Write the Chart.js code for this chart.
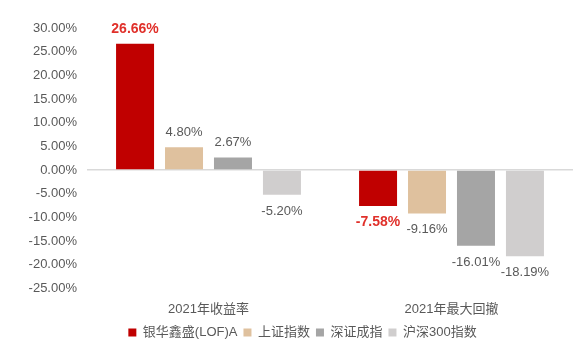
<!DOCTYPE html>
<html><head><meta charset="utf-8">
<script src="https://cdn.jsdelivr.net/npm/chart.js@4/dist/chart.umd.min.js"></script>
<style>html,body{margin:0;padding:0;background:#fff}#wrap{width:585px;height:356px;position:relative}</style>
</head><body><div id="wrap"><canvas id="c" width="585" height="356"></canvas></div>
<script>
const categories = ['2021年收益率', '2021年最大回撤'];
const seriesNames = ['银华鑫盛(LOF)A', '上证指数', '深证成指', '沪深300指数'];
const fundValues = [26.66, -7.58];
const shIndexValues = [4.80, -9.16];
const szIndexValues = [2.67, -16.01];
const hs300Values = [-5.20, -18.19];
const yTickMin = -25, yTickMax = 30, yTickStep = 5;

const colors = ['#C00000', '#DFC19E', '#A5A5A5', '#D0CECE'];
const FONT = "'Liberation Sans', Arial, 'Noto Sans CJK SC', sans-serif";
const TXT = '#595959';

const labelPlugin = {
  id: 'valLabels',
  afterLayout(chart) {
    if (chart.legend) { chart.legend.left += 16; chart.legend.right += 16; }
  },
  afterDatasetsDraw(chart) {
    const ctx = chart.ctx;
    chart.data.datasets.forEach((ds, di) => {
      const meta = chart.getDatasetMeta(di);
      meta.data.forEach((bar, i) => {
        const v = ds.data[i];
        const isFund = di === 0;
        ctx.save();
        ctx.font = (isFund ? 'bold 14px ' : '13px ') + FONT;
        ctx.fillStyle = isFund ? '#E0302A' : TXT;
        ctx.textAlign = 'center';
        ctx.textBaseline = 'middle';
        const y = v >= 0 ? bar.y - 14.5 : bar.y + 16.5;
        ctx.fillText(v.toFixed(2) + '%', bar.x, y);
        ctx.restore();
      });
    });
  }
};

new Chart(document.getElementById('c'), {
  type: 'bar',
  data: {
    labels: categories,
    datasets: [
      { label: seriesNames[0], data: fundValues, backgroundColor: colors[0] },
      { label: seriesNames[1], data: shIndexValues, backgroundColor: colors[1] },
      { label: seriesNames[2], data: szIndexValues, backgroundColor: colors[2] },
      { label: seriesNames[3], data: hs300Values, backgroundColor: colors[3] }
    ]
  },
  options: {
    responsive: false,
    animation: false,
    devicePixelRatio: 1,
    categoryPercentage: 0.806,
    barPercentage: 0.776,
    layout: { padding: { top: 28, right: 12, left: 0, bottom: 7 } },
    plugins: {
      legend: {
        position: 'bottom',
        labels: {
          boxWidth: 8, boxHeight: 8, padding: 6, color: TXT,
          font: { family: FONT, size: 13 }
        }
      },
      tooltip: { enabled: false }
    },
    scales: {
      x: {
        grid: { display: false, drawTicks: false },
        border: { display: false },
        afterFit(s) { s.height -= 10; },
        ticks: { color: TXT, font: { family: FONT, size: 13 }, padding: 13 }
      },
      y: {
        min: yTickMin, max: yTickMax,
        afterFit(s) { s.width = 87; },
        grid: {
          drawTicks: false,
          color: c => c.tick && c.tick.value === 0 ? '#D9D9D9' : 'rgba(0,0,0,0)',
          lineWidth: 1.5
        },
        border: { display: false },
        ticks: {
          stepSize: yTickStep, padding: 10, color: TXT,
          font: { family: FONT, size: 13 },
          callback: v => v.toFixed(2) + '%'
        }
      }
    }
  },
  plugins: [labelPlugin]
});
</script></body></html>
